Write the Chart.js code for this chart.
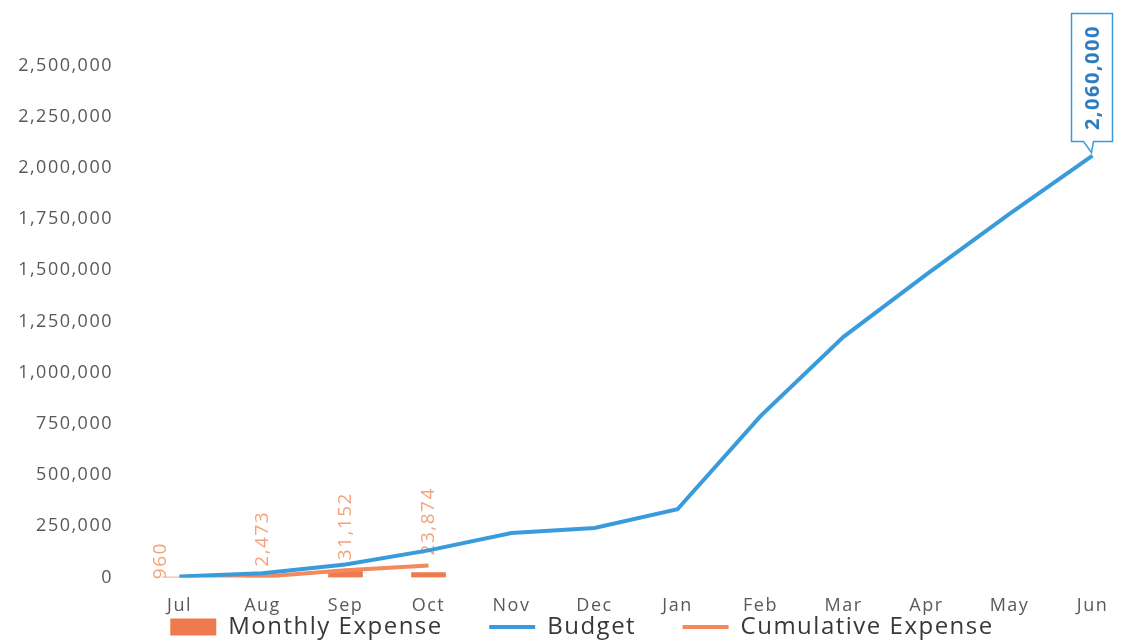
<!DOCTYPE html>
<html>
  <head>
    <script src="https://cdn.jsdelivr.net/npm/chart.js@4/dist/chart.umd.min.js"></script>
    <style>
      html, body { margin: 0; padding: 0; background: #fff; }
    </style>
  </head>

  <body>
    <div style="width: 1136px; height: 641px; position: relative">
      <canvas id="canvas"></canvas>
    </div>
    <script>
      const months = ['Jul', 'Aug', 'Sep', 'Oct', 'Nov', 'Dec', 'Jan', 'Feb', 'Mar', 'Apr', 'May', 'Jun'];
      const monthlyExpense = [960, 2473, 31152, 23874, null, null, null, null, null, null, null, null];
      const cumulativeExpense = [960, 3433, 34585, 58459, null, null, null, null, null, null, null, null];
      const budget = [5000, 20000, 63000, 132000, 217000, 241000, 333000, 788000, 1175000, 1480000, 1775000, 2060000];
      const yTicks = [0, 250000, 500000, 750000, 1000000, 1250000, 1500000, 1750000, 2000000, 2250000, 2500000];
      const budgetLabel = '2,060,000';

      const BLUE = '#3A9BDC';
      const ORANGE = '#EE7A4E';
      const ORANGE_LINE = '#F3895C';
      const LABEL_ORANGE = '#F4A27C';
      const FONT = "'Open Sans', sans-serif";
      const gap = '      ';

      // spread glyphs a bit, the scanned original is stretched sideways
      const spacingPlugin = {
        id: 'spacing',
        beforeUpdate: (chart) => { chart.ctx.letterSpacing = '1.5px'; },
        beforeDraw: (chart) => { chart.ctx.letterSpacing = '1.5px'; },
        // legend sits a little right of centre in the original
        afterLayout: (chart) => {
          chart.legend.left += 15;
          chart.legend.right += 15;
        },
      };

      // rotated monthly values, drawn before the lines so the lines cross them
      const valueLabels = {
        id: 'valueLabels',
        beforeDatasetsDraw: (chart) => {
          const ctx = chart.ctx;
          const meta = chart.getDatasetMeta(2);
          ctx.save();
          ctx.font = '19px ' + FONT;
          ctx.fillStyle = LABEL_ORANGE;
          ctx.textAlign = 'left';
          ctx.textBaseline = 'middle';
          monthlyExpense.forEach((v, i) => {
            if (v == null) return;
            const pt = meta.data[i];
            const dx = i === 0 ? -19 : 0;
            const dy = i === 0 ? 2 : -10;
            ctx.save();
            ctx.translate(pt.x + dx, pt.y + dy);
            ctx.rotate(-Math.PI / 2);
            ctx.fillText(v.toLocaleString('en-US'), 0, 0);
            ctx.restore();
          });
          ctx.restore();
        },
      };

      // callout box on the last budget point
      const budgetCallout = {
        id: 'budgetCallout',
        afterDatasetsDraw: (chart) => {
          const ctx = chart.ctx;
          const meta = chart.getDatasetMeta(1);
          const pt = meta.data[meta.data.length - 1];
          const w = 41, h = 128;
          const left = pt.x - 21, right = left + w;
          const bottom = pt.y - 14, top = bottom - h;
          ctx.save();
          ctx.beginPath();
          ctx.moveTo(left, top);
          ctx.lineTo(right, top);
          ctx.lineTo(right, bottom);
          ctx.lineTo(pt.x + 1, bottom);
          ctx.lineTo(pt.x - 1, pt.y - 3);
          ctx.lineTo(pt.x - 9, bottom);
          ctx.lineTo(left, bottom);
          ctx.closePath();
          ctx.fillStyle = '#fff';
          ctx.fill();
          ctx.lineWidth = 1.5;
          ctx.strokeStyle = BLUE;
          ctx.stroke();
          ctx.translate(left + w / 2, top + h / 2);
          ctx.rotate(-Math.PI / 2);
          ctx.font = 'bold 20px ' + FONT;
          ctx.fillStyle = '#2E7DC0';
          ctx.textAlign = 'center';
          ctx.textBaseline = 'middle';
          ctx.fillText(budgetLabel, 0, 1);
          ctx.restore();
        },
      };

      const chart = new Chart(document.getElementById('canvas').getContext('2d'), {
        type: 'bar',
        data: {
          labels: months,
          datasets: [
            {
              type: 'bar',
              label: 'Monthly Expense',
              data: monthlyExpense,
              backgroundColor: ORANGE,
              barThickness: 34,
              order: 3,
            },
            {
              type: 'line',
              label: 'Budget',
              data: budget,
              borderColor: BLUE,
              backgroundColor: BLUE,
              borderWidth: 4,
              pointRadius: 0,
              tension: 0,
              order: 1,
            },
            {
              type: 'line',
              label: 'Cumulative Expense',
              data: cumulativeExpense,
              borderColor: ORANGE_LINE,
              backgroundColor: ORANGE_LINE,
              borderWidth: 4,
              pointRadius: 0,
              tension: 0,
              order: 2,
            },
          ],
        },
        options: {
          responsive: true,
          maintainAspectRatio: false,
          animation: false,
          layout: {
            padding: { top: 14, right: 2, bottom: -8, left: 0 },
          },
          scales: {
            x: {
              offset: true,
              grid: { display: false, drawTicks: false },
              border: { display: false },
              ticks: {
                padding: 18,
                color: '#595959',
                font: { family: FONT, size: 18 },
                maxRotation: 0,
              },
              afterFit: (scale) => { scale.height = scale.height - 20; },
            },
            y: {
              min: 0,
              max: 2645000,
              grid: { display: false, drawTicks: false },
              border: { display: false },
              afterBuildTicks: (scale) => {
                scale.ticks = yTicks.map((v) => ({ value: v }));
              },
              ticks: {
                padding: 25,
                color: '#595959',
                font: { family: FONT, size: 18 },
                callback: (v) => v.toLocaleString('en-US'),
              },
              afterFit: (scale) => { scale.width = 138; },
            },
          },
          plugins: {
            tooltip: { enabled: false },
            legend: {
              position: 'bottom',
              labels: {
                padding: 0,
                usePointStyle: true,
                pointStyleWidth: 46,
                boxHeight: 17,
                color: '#383838',
                font: { family: FONT, size: 24 },
                generateLabels: (c) =>
                  c.data.datasets.map((ds, i) => ({
                    text: ds.label + (i < c.data.datasets.length - 1 ? gap : ''),
                    fillStyle: ds.backgroundColor,
                    strokeStyle: ds.type === 'line' ? ds.borderColor : ds.backgroundColor,
                    lineWidth: ds.type === 'line' ? 4 : 0,
                    pointStyle: ds.type === 'line' ? 'line' : 'rect',
                    fontColor: '#383838',
                    hidden: false,
                    datasetIndex: i,
                  })),
              },
            },
          },
        },
        plugins: [spacingPlugin, valueLabels, budgetCallout],
      });
    </script>
  </body>
</html>
